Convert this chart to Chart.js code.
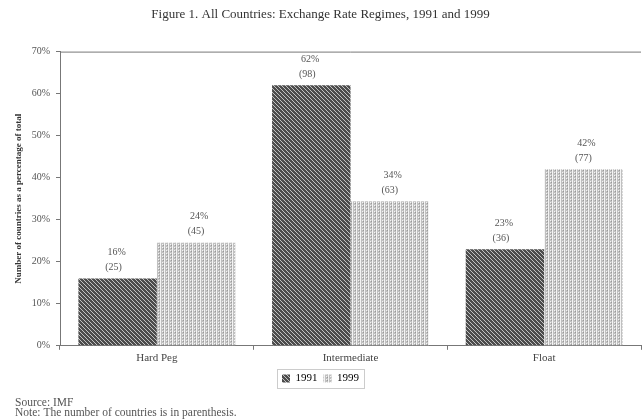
<!DOCTYPE html>
<html lang="en">
<head>
    <meta charset="UTF-8">
    <script src="https://cdn.jsdelivr.net/npm/chart.js"></script>
    <title>Exchange Rate Regimes</title>
    <style>
        body { margin: 0; background: #fff; }
        #chart { display: block; }
    </style>
</head>
<body>
    <canvas id="chart" width="643" height="420"></canvas>

    <script>
        // data
        var categories = ['Hard Peg', 'Intermediate', 'Float'];
        var share1991 = [16, 62, 23];
        var share1999 = [24.5, 34.4, 42];
        var pctLabels1991 = ['16%', '62%', '23%'];
        var pctLabels1999 = ['24%', '34%', '42%'];
        var counts1991 = [25, 98, 36];
        var counts1999 = [45, 63, 77];
        var yTicks = [0, 10, 20, 30, 40, 50, 60, 70];

        var serif = "'Liberation Serif', 'Times New Roman', serif";

        // dark diagonal hatching for 1991
        function hatchPattern() {
            var c = document.createElement('canvas');
            c.width = 4; c.height = 4;
            var g = c.getContext('2d');
            g.fillStyle = '#4c4c4c';
            g.fillRect(0, 0, 4, 4);
            g.strokeStyle = '#c2c2c2';
            g.lineWidth = 1;
            g.beginPath();
            g.moveTo(-1, -1); g.lineTo(5, 5);
            g.moveTo(-3, 1); g.lineTo(1, 5);
            g.moveTo(1, -3); g.lineTo(5, 1);
            g.stroke();
            return document.getElementById('chart').getContext('2d').createPattern(c, 'repeat');
        }

        // light dotted grid for 1999
        function dotPattern() {
            var c = document.createElement('canvas');
            c.width = 4; c.height = 3;
            var g = c.getContext('2d');
            g.fillStyle = '#c0c0c0';
            g.fillRect(0, 0, 4, 3);
            g.fillStyle = '#f4f4f4';
            g.fillRect(0, 0, 1, 3);
            g.fillRect(2, 1, 1, 1);
            g.fillStyle = '#999';
            g.fillRect(3, 2, 1, 1);
            return document.getElementById('chart').getContext('2d').createPattern(c, 'repeat');
        }

        var fill1991 = hatchPattern();
        var fill1999 = dotPattern();

        // two-line labels above each bar
        var barLabels = {
            id: 'barLabels',
            afterDatasetsDraw: function (chart) {
                var ctx = chart.ctx;
                ctx.save();
                ctx.font = '10px ' + serif;
                ctx.fillStyle = '#555';
                ctx.textAlign = 'center';
                ctx.textBaseline = 'middle';
                var sets = [[pctLabels1991, counts1991, -4], [pctLabels1999, counts1999, 0]];
                sets.forEach(function (s, di) {
                    chart.getDatasetMeta(di).data.forEach(function (bar, i) {
                        ctx.fillText(s[0][i], bar.x + s[2] + 3, bar.y - 26);
                        ctx.fillText('(' + s[1][i] + ')', bar.x + s[2], bar.y - 11);
                    });
                });
                ctx.restore();
            }
        };

        // frame round the plot, box round the legend, notes at the bottom
        var extras = {
            id: 'extras',
            afterDraw: function (chart) {
                var ctx = chart.ctx;
                var a = chart.chartArea;
                ctx.save();
                ctx.strokeStyle = '#777';
                ctx.lineWidth = 1;
                ctx.beginPath();
                ctx.moveTo(a.left, a.top + 0.5);
                ctx.lineTo(a.right, a.top + 0.5);
                ctx.stroke();

                var hb = chart.legend.legendHitBoxes;
                if (hb.length) {
                    var x0 = hb[0].left - 5, x1 = hb[hb.length - 1].left + hb[hb.length - 1].width + 5;
                    var y0 = hb[0].top - 4, y1 = hb[0].top + hb[0].height + 4;
                    ctx.strokeStyle = '#ccc';
                    ctx.strokeRect(Math.round(x0) + 0.5, Math.round(y0) + 0.5, Math.round(x1 - x0), Math.round(y1 - y0));
                }

                ctx.fillStyle = '#555';
                ctx.font = '11.5px ' + serif;
                ctx.textAlign = 'left';
                ctx.textBaseline = 'middle';
                ctx.fillText('Source: IMF', 15, 403);
                ctx.fillText('Note: The number of countries is in parenthesis.', 15, 413);
                ctx.restore();
            }
        };

        new Chart(document.getElementById('chart'), {
            type: 'bar',
            data: {
                labels: categories,
                datasets: [
                    { label: '1991', data: share1991, backgroundColor: fill1991, borderWidth: 0 },
                    { label: '1999', data: share1999, backgroundColor: fill1999, borderWidth: 0 }
                ]
            },
            options: {
                responsive: false,
                animation: false,
                devicePixelRatio: 1,
                layout: { padding: { left: 0, right: 2, top: 0, bottom: 26 } },
                datasets: { bar: { categoryPercentage: 0.81, barPercentage: 1 } },
                plugins: {
                    title: {
                        display: true,
                        text: 'Figure 1. All Countries: Exchange Rate Regimes, 1991 and 1999',
                        font: { family: serif, size: 13, weight: 'normal' },
                        color: '#333',
                        padding: { top: 7, bottom: 29 }
                    },
                    legend: {
                        position: 'bottom',
                        labels: {
                            font: { family: serif, size: 11 },
                            color: '#444',
                            boxWidth: 8,
                            boxHeight: 8,
                            padding: 6,
                            generateLabels: function (chart) {
                                return chart.data.datasets.map(function (ds, i) {
                                    return { text: ds.label, fillStyle: ds.backgroundColor, lineWidth: 0, strokeStyle: 'transparent', datasetIndex: i };
                                });
                            }
                        }
                    },
                    tooltip: { enabled: false }
                },
                scales: {
                    x: {
                        grid: { drawOnChartArea: false, tickLength: 4, color: '#777', offset: true },
                        border: { color: '#777' },
                        ticks: { font: { family: serif, size: 11 }, color: '#444', padding: 2 }
                    },
                    y: {
                        min: 0,
                        max: 70,
                        afterBuildTicks: function (scale) {
                            scale.ticks = yTicks.map(function (v) { return { value: v }; });
                        },
                        afterFit: function (scale) { scale.width = 60; },
                        grid: { drawOnChartArea: false, tickLength: 4, color: '#777' },
                        border: { color: '#777' },
                        ticks: {
                            font: { family: serif, size: 10 },
                            color: '#555',
                            padding: 6,
                            callback: function (v) { return v + '%'; }
                        },
                        title: {
                            display: true,
                            text: 'Number of countries as a percentage of total',
                            font: { family: serif, size: 9, weight: 'bold' },
                            color: '#333',
                            padding: { top: 13, bottom: 0 }
                        }
                    }
                }
            },
            plugins: [barLabels, extras]
        });
    </script>
</body>
</html>
